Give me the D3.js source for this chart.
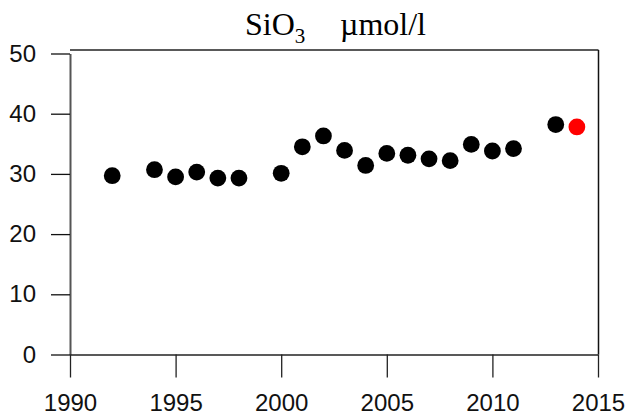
<!DOCTYPE html>
<html><head><meta charset="utf-8">
<script src="https://cdn.jsdelivr.net/npm/d3@7"></script>
<style>body{margin:0;background:#fff}svg{display:block}</style>
</head><body>
<script>
const years = [1992,1994,1995,1996,1997,1998,2000,2001,2002,2003,2004,2005,2006,2007,2008,2009,2010,2011,2013,2014];
const values = [29.7,30.7,29.5,30.3,29.3,29.3,30.1,34.5,36.3,33.9,31.4,33.4,33.1,32.5,32.2,34.9,33.8,34.2,38.2,37.8];
const highlightYear = 2014;
const xTicks = [1990,1995,2000,2005,2010,2015];
const yTicks = [0,10,20,30,40,50];
const titleMain = "SiO", titleSub = "3", titleUnit = "µmol/l";

const W = 631, H = 419;
const svg = d3.select("body").append("svg").attr("width", W).attr("height", H);
const x = d3.scaleLinear().domain([1990, 2015]).range([70, 598]);
const y = d3.scaleLinear().domain([0, 50]).range([354.5, 53.5]);

// frame top & right
svg.append("line").attr("x1", 70).attr("x2", 598.5).attr("y1", 50).attr("y2", 50)
  .attr("stroke", "#222").attr("stroke-width", 1.3);
svg.append("line").attr("x1", 598.5).attr("x2", 598.5).attr("y1", 50).attr("y2", y(0))
  .attr("stroke", "#111").attr("stroke-width", 1.5);

// y axis
const ya = svg.append("g").attr("transform", "translate(70,0)")
  .call(d3.axisLeft(y).tickValues(yTicks).tickSize(19).tickSizeOuter(0).tickPadding(15));
ya.select(".domain").attr("stroke", "#555").attr("stroke-width", 2);
ya.selectAll(".tick line").attr("stroke", "#111").attr("stroke-width", 1.3);
ya.selectAll("text").attr("font-family", "Liberation Sans, Arial, sans-serif").attr("font-size", 24).attr("fill", "#111");

// x axis
const xa = svg.append("g").attr("transform", `translate(0,${y(0)})`)
  .call(d3.axisBottom(x).tickValues(xTicks).tickFormat(d3.format("d")).tickSize(23).tickSizeOuter(0).tickPadding(16));
xa.select(".domain").attr("stroke", "#222").attr("stroke-width", 1.3);
xa.selectAll(".tick line").attr("stroke", "#222").attr("stroke-width", 1.3);
xa.selectAll("text").attr("font-family", "Liberation Sans, Arial, sans-serif").attr("font-size", 24).attr("fill", "#111");

// points
svg.append("g").selectAll("circle").data(years.map((d, i) => ({year: d, value: values[i]})))
  .join("circle")
  .attr("cx", d => x(d.year)).attr("cy", d => y(d.value)).attr("r", 8.4)
  .attr("fill", d => d.year === highlightYear ? "#ff0000" : "#000");

// title
const t = svg.append("text").attr("x", 245).attr("y", 35)
  .attr("font-family", "Liberation Serif, Times New Roman, serif").attr("font-size", 32).attr("fill", "#000");
t.append("tspan").text(titleMain);
t.append("tspan").attr("font-size", 21).attr("dy", 8).text(titleSub);
t.append("tspan").attr("x", 340).attr("dy", -8).text(titleUnit);
</script>
</body></html>
